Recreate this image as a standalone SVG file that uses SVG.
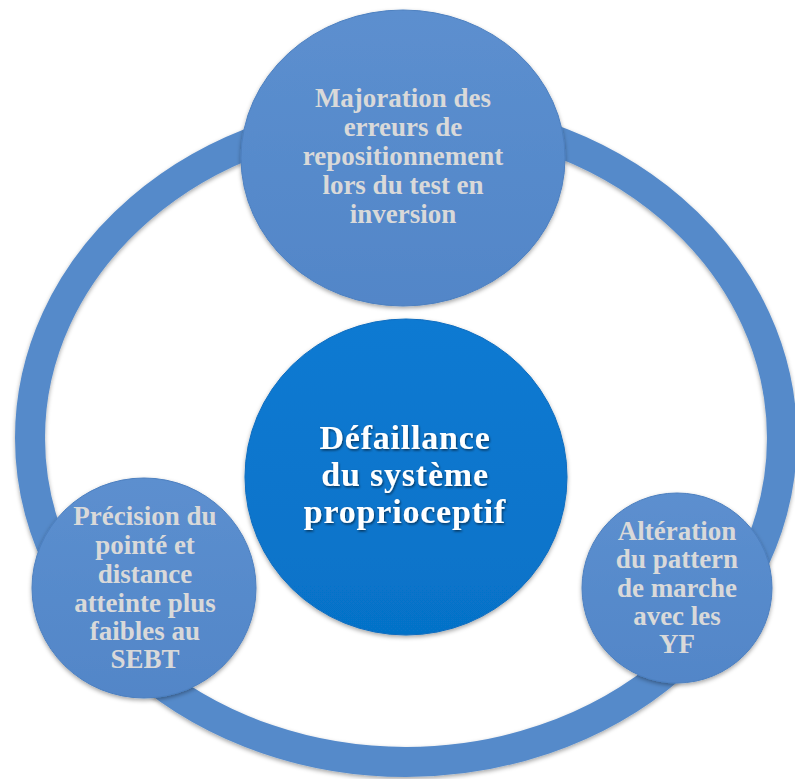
<svg xmlns="http://www.w3.org/2000/svg" width="795" height="779" viewBox="0 0 795 779">
  <defs>
    <filter id="shadow" x="-10%" y="-10%" width="120%" height="125%">
      <feDropShadow dx="0" dy="2" stdDeviation="2" flood-color="#000" flood-opacity="0.35"/>
    </filter>
    <filter id="tshadow" x="-10%" y="-20%" width="120%" height="140%">
      <feDropShadow dx="1" dy="1.5" stdDeviation="1" flood-color="#000" flood-opacity="0.55"/>
    </filter>
    <linearGradient id="gOuter" x1="0" y1="0" x2="0" y2="1">
      <stop offset="0" stop-color="#5C8FCF"/>
      <stop offset="1" stop-color="#5286C8"/>
    </linearGradient>
    <linearGradient id="gCenter" x1="0" y1="0" x2="0" y2="1">
      <stop offset="0" stop-color="#0C7AD2"/>
      <stop offset="1" stop-color="#0672C8"/>
    </linearGradient>
  </defs>
  <style>
    .ring { fill: none; stroke: #558ACA; stroke-width: 30; }
    .outer { fill: url(#gOuter); stroke: #4D80C0; stroke-width: 1; }
    .center { fill: url(#gCenter); stroke: #0A6CBF; stroke-width: 1; }
    .otext { font-family: "Liberation Serif", "Times New Roman", serif; font-weight: bold; font-size: 27px; fill: #D9D9D9; text-anchor: middle; }
    .ctext { font-family: "Liberation Serif", "Times New Roman", serif; font-weight: bold; font-size: 34px; letter-spacing: 0.8px; fill: #FFFFFF; text-anchor: middle; }
  </style>
  <rect width="795" height="779" fill="#FFFFFF"/>
  <g id="connectors">
    <ellipse class="ring" cx="406" cy="438" rx="376" ry="324" filter="url(#shadow)"/>
  </g>
  <g id="node-top">
    <ellipse class="outer" cx="403" cy="158" rx="162" ry="148" filter="url(#shadow)"/>
    <text class="otext" x="403" y="107">Majoration des</text>
    <text class="otext" x="403" y="136">erreurs de</text>
    <text class="otext" x="403" y="165">repositionnement</text>
    <text class="otext" x="403" y="194">lors du test en</text>
    <text class="otext" x="403" y="223">inversion</text>
  </g>
  <g id="node-center">
    <ellipse class="center" cx="406" cy="477" rx="161" ry="158" filter="url(#shadow)"/>
    <g filter="url(#tshadow)">
      <text class="ctext" x="405" y="449">Défaillance</text>
      <text class="ctext" x="405" y="486">du système</text>
      <text class="ctext" x="405" y="523">proprioceptif</text>
    </g>
  </g>
  <g id="node-left">
    <ellipse class="outer" cx="144" cy="588" rx="112" ry="110" filter="url(#shadow)"/>
    <text class="otext" x="145" y="525">Précision du</text>
    <text class="otext" x="145" y="554">pointé et</text>
    <text class="otext" x="145" y="583">distance</text>
    <text class="otext" x="145" y="612">atteinte plus</text>
    <text class="otext" x="145" y="640">faibles au</text>
    <text class="otext" x="145" y="668">SEBT</text>
  </g>
  <g id="node-right">
    <ellipse class="outer" cx="677" cy="588" rx="95" ry="95" filter="url(#shadow)"/>
    <text class="otext" x="677" y="540">Altération</text>
    <text class="otext" x="677" y="568">du pattern</text>
    <text class="otext" x="677" y="597">de marche</text>
    <text class="otext" x="677" y="625">avec les</text>
    <text class="otext" x="677" y="653">YF</text>
  </g>
</svg>
